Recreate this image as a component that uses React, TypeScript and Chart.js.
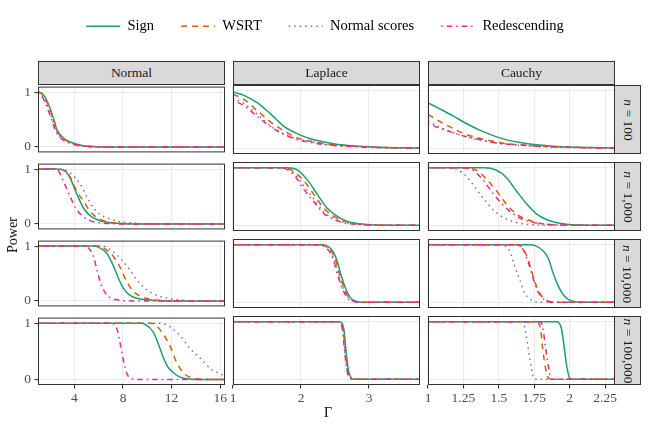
import { useEffect, useRef } from 'react'
import { Chart, registerables } from 'chart.js'

Chart.register(...registerables)

type Pt = [number, number]

const FONT = "'Liberation Serif', 'Times New Roman', serif"

const DISTRIBUTIONS = ['Normal', 'Laplace', 'Cauchy']
const SAMPLE_SIZES = ['100', '1,000', '10,000', '100,000']
const METHODS = ['Sign', 'WSRT', 'Normal scores', 'Redescending']
const COLORS = ['#1B9E77', '#D95F02', '#7570B3', '#E7298A']
const DASHES = [[], [6, 5], [1.5, 4], [1.5, 4, 5.5, 4]]

const X_RANGES = [
  [1, 16.4],
  [1, 3.75],
  [1, 2.32],
]
const X_TICKS = [
  [4, 8, 12, 16],
  [1, 2, 3],
  [1, 1.25, 1.5, 1.75, 2, 2.25],
]
const Y_TICKS = [0, 1]

// Normal
const NORMAL_100_SIGN: Pt[] = [[1, 1], [1.3, 0.98], [1.6, 0.9], [2, 0.7], [2.3, 0.5], [2.55, 0.32], [3.1, 0.16], [3.65, 0.09], [4.2, 0.05], [4.75, 0.02], [5.8, 0.005], [7, 0], [16.4, 0]]
const NORMAL_100_WSRT: Pt[] = [[1, 1], [1.3, 0.97], [1.6, 0.88], [2, 0.68], [2.3, 0.48], [2.55, 0.31], [3.1, 0.15], [3.65, 0.08], [4.2, 0.04], [4.75, 0.018], [5.8, 0.004], [7, 0], [16.4, 0]]
const NORMAL_100_NS: Pt[] = [[1, 1], [1.3, 0.95], [1.6, 0.84], [2, 0.62], [2.3, 0.42], [2.55, 0.27], [3.1, 0.13], [3.65, 0.07], [4.2, 0.035], [4.75, 0.015], [5.8, 0.003], [7, 0], [16.4, 0]]
const NORMAL_100_RED: Pt[] = [[1, 0.99], [1.3, 0.93], [1.6, 0.8], [2, 0.57], [2.3, 0.38], [2.55, 0.25], [3.1, 0.12], [3.65, 0.065], [4.2, 0.03], [4.75, 0.013], [5.8, 0.003], [7, 0], [16.4, 0]]

const NORMAL_1000_SIGN: Pt[] = [[1, 1], [2.5, 1], [2.96, 0.99], [3.3, 0.95], [3.64, 0.84], [4.19, 0.55], [4.74, 0.29], [5.29, 0.15], [5.84, 0.08], [6.66, 0.03], [7.5, 0.01], [9, 0], [16.4, 0]]
const NORMAL_1000_WSRT: Pt[] = [[1, 1], [2.5, 1], [3, 0.99], [3.3, 0.96], [3.64, 0.86], [4.19, 0.6], [4.74, 0.42], [5.29, 0.23], [5.84, 0.12], [6.39, 0.06], [7.21, 0.02], [8.5, 0.003], [10, 0], [16.4, 0]]
const NORMAL_1000_NS: Pt[] = [[1, 1], [2.5, 1], [3.1, 0.99], [3.64, 0.93], [4.47, 0.73], [5.02, 0.5], [5.57, 0.29], [6.12, 0.17], [6.94, 0.09], [7.76, 0.04], [8.59, 0.02], [10, 0.003], [11, 0], [16.4, 0]]
const NORMAL_1000_RED: Pt[] = [[1, 1], [2.4, 1], [2.68, 0.97], [3.09, 0.78], [3.64, 0.5], [4.19, 0.26], [4.74, 0.13], [5.29, 0.06], [6.12, 0.02], [7, 0.005], [8, 0], [16.4, 0]]

const NORMAL_10000_SIGN: Pt[] = [[1, 1], [5.5, 1], [5.98, 0.98], [6.66, 0.87], [7.21, 0.64], [7.63, 0.41], [8.04, 0.23], [8.59, 0.1], [9.14, 0.05], [9.96, 0.02], [11, 0.003], [12, 0], [16.4, 0]]
const NORMAL_10000_WSRT: Pt[] = [[1, 1], [6, 1], [6.3, 0.98], [7.21, 0.81], [7.76, 0.61], [8.31, 0.35], [8.86, 0.17], [9.41, 0.09], [10.2, 0.03], [11.2, 0.008], [12.5, 0], [16.4, 0]]
const NORMAL_10000_NS: Pt[] = [[1, 1], [6.4, 1], [6.7, 0.97], [7.49, 0.84], [8.31, 0.64], [9.14, 0.38], [9.96, 0.2], [10.8, 0.1], [11.9, 0.04], [13, 0.01], [14, 0], [16.4, 0]]
const NORMAL_10000_RED: Pt[] = [[1, 1], [4.9, 1], [5.15, 0.97], [5.57, 0.81], [5.84, 0.58], [6.12, 0.35], [6.53, 0.15], [6.94, 0.06], [7.49, 0.02], [8.2, 0.003], [9, 0], [16.4, 0]]

const NORMAL_100000_SIGN: Pt[] = [[1, 1], [9.5, 1], [9.82, 0.98], [10.5, 0.84], [10.9, 0.64], [11.3, 0.4], [11.7, 0.22], [12.2, 0.11], [12.7, 0.04], [13.3, 0.01], [14, 0], [16.4, 0]]
const NORMAL_100000_WSRT: Pt[] = [[1, 1], [10.4, 1], [10.6, 0.98], [11.3, 0.81], [11.9, 0.58], [12.4, 0.31], [13, 0.11], [13.5, 0.04], [14.1, 0.01], [14.8, 0], [16.4, 0]]
const NORMAL_100000_NS: Pt[] = [[1, 1], [11, 1], [11.6, 0.97], [12.7, 0.78], [13.5, 0.55], [14.4, 0.37], [15.2, 0.19], [16, 0.1], [16.4, 0.06]]
const NORMAL_100000_RED: Pt[] = [[1, 1], [7.1, 1], [7.3, 0.97], [7.54, 0.87], [7.82, 0.58], [8.09, 0.28], [8.37, 0.08], [8.73, 0.01], [9.2, 0], [16.4, 0]]

// Laplace
const LAPLACE_100_SIGN: Pt[] = [[1, 0.98], [1.16, 0.92], [1.36, 0.79], [1.56, 0.59], [1.75, 0.38], [1.95, 0.25], [2.15, 0.16], [2.34, 0.11], [2.59, 0.06], [2.84, 0.035], [3.23, 0.015], [3.75, 0.005]]
const LAPLACE_100_WSRT: Pt[] = [[1, 0.94], [1.16, 0.85], [1.36, 0.65], [1.56, 0.45], [1.75, 0.3], [1.95, 0.18], [2.15, 0.12], [2.34, 0.08], [2.59, 0.05], [2.84, 0.03], [3.23, 0.012], [3.75, 0.004]]
const LAPLACE_100_NS: Pt[] = [[1, 0.88], [1.16, 0.78], [1.36, 0.59], [1.56, 0.38], [1.75, 0.25], [1.95, 0.16], [2.15, 0.11], [2.34, 0.07], [2.59, 0.04], [2.84, 0.03], [3.23, 0.012], [3.75, 0.004]]
const LAPLACE_100_RED: Pt[] = [[1, 0.84], [1.16, 0.74], [1.36, 0.55], [1.56, 0.37], [1.75, 0.24], [1.95, 0.15], [2.15, 0.1], [2.34, 0.065], [2.59, 0.04], [2.84, 0.025], [3.23, 0.01], [3.75, 0.003]]

const LAPLACE_1000_SIGN: Pt[] = [[1, 1], [1.8, 1], [1.95, 0.96], [2.1, 0.78], [2.25, 0.52], [2.39, 0.29], [2.54, 0.15], [2.69, 0.06], [2.84, 0.03], [3.03, 0.01], [3.3, 0], [3.75, 0]]
const LAPLACE_1000_WSRT: Pt[] = [[1, 1], [1.75, 1], [1.9, 0.93], [2.05, 0.76], [2.2, 0.52], [2.34, 0.29], [2.49, 0.15], [2.64, 0.07], [2.84, 0.02], [3.1, 0.004], [3.3, 0], [3.75, 0]]
const LAPLACE_1000_NS: Pt[] = [[1, 1], [1.72, 1], [1.9, 0.9], [2.05, 0.67], [2.2, 0.44], [2.34, 0.23], [2.49, 0.12], [2.64, 0.05], [2.84, 0.02], [3.1, 0.003], [3.3, 0], [3.75, 0]]
const LAPLACE_1000_RED: Pt[] = [[1, 1], [1.7, 1], [1.9, 0.87], [2.05, 0.61], [2.2, 0.39], [2.34, 0.2], [2.49, 0.1], [2.64, 0.04], [2.84, 0.015], [3.1, 0.002], [3.3, 0], [3.75, 0]]

const LAPLACE_10000_SIGN: Pt[] = [[1, 1], [2.3, 1], [2.34, 0.995], [2.44, 0.93], [2.52, 0.76], [2.59, 0.47], [2.67, 0.2], [2.74, 0.06], [2.84, 0.01], [2.95, 0], [3.75, 0]]
const LAPLACE_10000_WSRT: Pt[] = [[1, 1], [2.28, 1], [2.32, 0.995], [2.42, 0.93], [2.5, 0.76], [2.57, 0.47], [2.65, 0.2], [2.72, 0.06], [2.82, 0.01], [2.93, 0], [3.75, 0]]
const LAPLACE_10000_NS: Pt[] = [[1, 1], [2.27, 1], [2.31, 0.99], [2.41, 0.92], [2.49, 0.74], [2.56, 0.45], [2.64, 0.19], [2.71, 0.06], [2.81, 0.01], [2.92, 0], [3.75, 0]]
const LAPLACE_10000_RED: Pt[] = [[1, 1], [2.26, 1], [2.3, 0.99], [2.4, 0.91], [2.48, 0.72], [2.55, 0.43], [2.63, 0.18], [2.7, 0.05], [2.8, 0.01], [2.91, 0], [3.75, 0]]

const LAPLACE_100000_SIGN: Pt[] = [[1, 1], [2.57, 1], [2.6, 0.98], [2.63, 0.87], [2.665, 0.46], [2.7, 0.14], [2.74, 0.02], [2.78, 0], [3.75, 0]]
const LAPLACE_100000_WSRT: Pt[] = [[1, 1], [2.56, 1], [2.59, 0.98], [2.62, 0.86], [2.655, 0.45], [2.69, 0.13], [2.73, 0.02], [2.77, 0], [3.75, 0]]
const LAPLACE_100000_NS: Pt[] = [[1, 1], [2.555, 1], [2.585, 0.98], [2.615, 0.85], [2.65, 0.44], [2.685, 0.13], [2.725, 0.02], [2.765, 0], [3.75, 0]]
const LAPLACE_100000_RED: Pt[] = [[1, 1], [2.55, 1], [2.58, 0.98], [2.61, 0.85], [2.645, 0.44], [2.68, 0.13], [2.72, 0.02], [2.76, 0], [3.75, 0]]

// Cauchy
const CAUCHY_100_SIGN: Pt[] = [[1, 0.79], [1.08, 0.69], [1.18, 0.56], [1.27, 0.43], [1.37, 0.31], [1.46, 0.22], [1.55, 0.15], [1.65, 0.1], [1.77, 0.06], [1.88, 0.035], [2.07, 0.017], [2.32, 0.006]]
const CAUCHY_100_WSRT: Pt[] = [[1, 0.59], [1.08, 0.47], [1.18, 0.34], [1.27, 0.24], [1.37, 0.17], [1.46, 0.12], [1.55, 0.08], [1.65, 0.06], [1.77, 0.04], [1.88, 0.03], [2.07, 0.015], [2.32, 0.005]]
const CAUCHY_100_NS: Pt[] = [[1, 0.47], [1.08, 0.37], [1.18, 0.27], [1.27, 0.2], [1.37, 0.14], [1.46, 0.1], [1.55, 0.07], [1.65, 0.05], [1.77, 0.035], [1.88, 0.023], [2.07, 0.012], [2.32, 0.004]]
const CAUCHY_100_RED: Pt[] = [[1, 0.43], [1.08, 0.35], [1.18, 0.27], [1.27, 0.2], [1.37, 0.15], [1.46, 0.1], [1.55, 0.075], [1.65, 0.055], [1.77, 0.035], [1.88, 0.022], [2.07, 0.01], [2.32, 0.003]]

const CAUCHY_1000_SIGN: Pt[] = [[1, 1], [1.4, 1], [1.48, 0.96], [1.55, 0.84], [1.62, 0.61], [1.7, 0.36], [1.77, 0.19], [1.84, 0.095], [1.91, 0.045], [1.98, 0.018], [2.07, 0.005], [2.2, 0], [2.32, 0]]
const CAUCHY_1000_WSRT: Pt[] = [[1, 1], [1.25, 1], [1.34, 0.96], [1.41, 0.81], [1.48, 0.61], [1.55, 0.38], [1.62, 0.2], [1.7, 0.1], [1.77, 0.045], [1.84, 0.018], [1.95, 0.004], [2.1, 0], [2.32, 0]]
const CAUCHY_1000_NS: Pt[] = [[1, 1], [1.15, 1], [1.25, 0.9], [1.32, 0.7], [1.39, 0.47], [1.46, 0.27], [1.53, 0.14], [1.6, 0.065], [1.7, 0.018], [1.8, 0.004], [1.9, 0], [2.32, 0]]
const CAUCHY_1000_RED: Pt[] = [[1, 1], [1.24, 1], [1.32, 0.95], [1.39, 0.78], [1.46, 0.55], [1.53, 0.35], [1.6, 0.2], [1.67, 0.1], [1.74, 0.05], [1.84, 0.017], [1.95, 0.004], [2.1, 0], [2.32, 0]]

const CAUCHY_10000_SIGN: Pt[] = [[1, 1], [1.72, 1], [1.76, 0.98], [1.81, 0.9], [1.85, 0.76], [1.88, 0.53], [1.92, 0.28], [1.955, 0.13], [1.99, 0.05], [2.03, 0.012], [2.08, 0], [2.32, 0]]
const CAUCHY_10000_WSRT: Pt[] = [[1, 1], [1.62, 1], [1.65, 0.98], [1.68, 0.9], [1.72, 0.64], [1.755, 0.35], [1.79, 0.15], [1.825, 0.05], [1.86, 0.01], [1.9, 0], [2.32, 0]]
const CAUCHY_10000_NS: Pt[] = [[1, 1], [1.52, 1], [1.55, 0.97], [1.58, 0.87], [1.61, 0.64], [1.65, 0.38], [1.68, 0.17], [1.72, 0.06], [1.755, 0.01], [1.79, 0], [2.32, 0]]
const CAUCHY_10000_RED: Pt[] = [[1, 1], [1.615, 1], [1.645, 0.98], [1.675, 0.9], [1.715, 0.64], [1.75, 0.35], [1.785, 0.15], [1.82, 0.05], [1.855, 0.01], [1.895, 0], [2.32, 0]]

const CAUCHY_100000_SIGN: Pt[] = [[1, 1], [1.91, 1], [1.925, 0.98], [1.943, 0.87], [1.96, 0.58], [1.98, 0.22], [2.0, 0.02], [2.02, 0], [2.32, 0]]
const CAUCHY_100000_WSRT: Pt[] = [[1, 1], [1.77, 1], [1.78, 0.98], [1.795, 0.87], [1.81, 0.52], [1.83, 0.19], [1.85, 0.02], [1.87, 0], [2.32, 0]]
const CAUCHY_100000_NS: Pt[] = [[1, 1], [1.66, 1], [1.675, 0.97], [1.69, 0.81], [1.71, 0.49], [1.73, 0.19], [1.745, 0.02], [1.76, 0], [2.32, 0]]
const CAUCHY_100000_RED: Pt[] = [[1, 1], [1.79, 1], [1.8, 0.98], [1.81, 0.9], [1.83, 0.55], [1.85, 0.22], [1.865, 0.02], [1.88, 0], [2.32, 0]]

// [column][row][method]
const CURVES: Pt[][][][] = [
  [
    [NORMAL_100_SIGN, NORMAL_100_WSRT, NORMAL_100_NS, NORMAL_100_RED],
    [NORMAL_1000_SIGN, NORMAL_1000_WSRT, NORMAL_1000_NS, NORMAL_1000_RED],
    [NORMAL_10000_SIGN, NORMAL_10000_WSRT, NORMAL_10000_NS, NORMAL_10000_RED],
    [NORMAL_100000_SIGN, NORMAL_100000_WSRT, NORMAL_100000_NS, NORMAL_100000_RED],
  ],
  [
    [LAPLACE_100_SIGN, LAPLACE_100_WSRT, LAPLACE_100_NS, LAPLACE_100_RED],
    [LAPLACE_1000_SIGN, LAPLACE_1000_WSRT, LAPLACE_1000_NS, LAPLACE_1000_RED],
    [LAPLACE_10000_SIGN, LAPLACE_10000_WSRT, LAPLACE_10000_NS, LAPLACE_10000_RED],
    [LAPLACE_100000_SIGN, LAPLACE_100000_WSRT, LAPLACE_100000_NS, LAPLACE_100000_RED],
  ],
  [
    [CAUCHY_100_SIGN, CAUCHY_100_WSRT, CAUCHY_100_NS, CAUCHY_100_RED],
    [CAUCHY_1000_SIGN, CAUCHY_1000_WSRT, CAUCHY_1000_NS, CAUCHY_1000_RED],
    [CAUCHY_10000_SIGN, CAUCHY_10000_WSRT, CAUCHY_10000_NS, CAUCHY_10000_RED],
    [CAUCHY_100000_SIGN, CAUCHY_100000_WSRT, CAUCHY_100000_NS, CAUCHY_100000_RED],
  ],
]

// layout (px)
const COL_LEFT = [38, 233, 428]
const ROW_TOP = [85, 162, 239, 316]
const PANEL_W = 187
const PANEL_H = 69
const STRIP_TOP = 61
const STRIP_H = 24
const STRIP_W = 27
const PAD = 10
const AXIS_B = 30

const panelBorder = {
  id: 'panelBorder',
  afterDraw(chart: Chart) {
    const { ctx, chartArea: a } = chart
    ctx.save()
    ctx.strokeStyle = '#333333'
    ctx.lineWidth = 1
    ctx.strokeRect(a.left + 0.5, a.top + 0.5, a.width - 1, a.height - 1)
    ctx.restore()
  },
}

function Panel({ col, row }: { col: number; row: number }) {
  const canvasRef = useRef<HTMLCanvasElement>(null)
  const left = col === 0
  const bottom = row === 3
  const padL = left ? COL_LEFT[0] : PAD
  const padB = bottom ? AXIS_B : PAD

  useEffect(() => {
    if (!canvasRef.current) return
    const tickFont = { size: 13.5, family: FONT }
    const chart = new Chart(canvasRef.current, {
      type: 'line',
      data: {
        datasets: CURVES[col][row]
          .map((pts, i) => ({
            label: METHODS[i],
            data: pts.map(([x, y]) => ({ x, y })),
            borderColor: COLORS[i],
            borderWidth: 1.5,
            borderDash: DASHES[i],
            borderCapStyle: 'butt' as const,
            pointRadius: 0,
            cubicInterpolationMode: 'monotone' as const,
            fill: false,
          }))
          .reverse(),
      },
      options: {
        animation: false,
        events: [],
        responsive: true,
        maintainAspectRatio: false,
        layout: {
          padding: { left: left ? 0 : PAD, right: PAD, top: PAD, bottom: bottom ? 0 : PAD },
        },
        plugins: { legend: { display: false }, tooltip: { enabled: false } },
        scales: {
          x: {
            type: 'linear',
            min: X_RANGES[col][0],
            max: X_RANGES[col][1],
            afterBuildTicks: (s: any) => {
              s.ticks = X_TICKS[col].map((value) => ({ value }))
            },
            afterFit: (s: any) => {
              s.height = bottom ? AXIS_B : 0
            },
            ticks: {
              display: bottom,
              autoSkip: false,
              maxRotation: 0,
              minRotation: 0,
              padding: 2,
              color: '#4D4D4D',
              font: tickFont,
              callback: (v: any) => String(v),
            },
            grid: {
              color: '#EBEBEB',
              lineWidth: 1.1,
              drawTicks: bottom,
              tickLength: 3.5,
              tickColor: '#333333',
              tickWidth: 1.1,
            },
            border: { display: false },
          },
          y: {
            type: 'linear',
            min: -0.1,
            max: 1.1,
            afterBuildTicks: (s: any) => {
              s.ticks = Y_TICKS.map((value) => ({ value }))
            },
            afterFit: (s: any) => {
              s.width = left ? COL_LEFT[0] : 0
            },
            ticks: {
              display: left,
              padding: 3.5,
              color: '#4D4D4D',
              font: tickFont,
              callback: (v: any) => String(v),
            },
            grid: {
              color: '#EBEBEB',
              lineWidth: 1.1,
              drawTicks: left,
              tickLength: 3.5,
              tickColor: '#333333',
              tickWidth: 1.1,
            },
            border: { display: false },
          },
        },
      },
      plugins: [panelBorder],
    })
    return () => chart.destroy()
  }, [col, row])

  return (
    <div
      style={{
        position: 'absolute',
        left: COL_LEFT[col] - padL,
        top: ROW_TOP[row] - PAD,
        width: PANEL_W + padL + PAD,
        height: PANEL_H + PAD + padB,
      }}
    >
      <canvas ref={canvasRef} />
    </div>
  )
}

function Legend() {
  const canvasRef = useRef<HTMLCanvasElement>(null)

  useEffect(() => {
    if (!canvasRef.current) return
    const chart = new Chart(canvasRef.current, {
      type: 'line',
      data: {
        labels: [''],
        datasets: METHODS.map((m, i) => ({
          label: m,
          data: [null],
          borderColor: COLORS[i],
          backgroundColor: COLORS[i],
          borderWidth: 1.5,
          borderDash: DASHES[i],
          borderCapStyle: 'butt' as const,
          pointRadius: 0,
        })),
      },
      options: {
        animation: false,
        events: [],
        responsive: true,
        maintainAspectRatio: false,
        layout: { padding: 0 },
        plugins: {
          tooltip: { enabled: false },
          legend: {
            display: true,
            position: 'top',
            align: 'center',
            maxHeight: 120,
            labels: {
              usePointStyle: true,
              pointStyle: 'line',
              pointStyleWidth: 34,
              padding: 27,
              color: '#000000',
              font: { size: 14.5, family: FONT },
              // point styles carry no dash, so build the items from the datasets
              generateLabels: (c: Chart) =>
                c.data.datasets.map((ds: any, i: number) => ({
                  text: ds.label,
                  datasetIndex: i,
                  hidden: false,
                  strokeStyle: ds.borderColor,
                  fillStyle: ds.borderColor,
                  fontColor: '#000000',
                  lineWidth: ds.borderWidth,
                  lineDash: ds.borderDash,
                  lineCap: 'butt',
                  pointStyle: 'line',
                })),
            },
          },
        },
        scales: { x: { display: false }, y: { display: false } },
      },
    })
    return () => chart.destroy()
  }, [])

  return (
    <div style={{ position: 'absolute', left: 0, top: -8, width: 650, height: 160 }}>
      <canvas ref={canvasRef} />
    </div>
  )
}

export default function App() {
  const stripBase = {
    position: 'absolute' as const,
    boxSizing: 'border-box' as const,
    background: '#D9D9D9',
    border: '1px solid #333333',
    display: 'flex',
    alignItems: 'center',
    justifyContent: 'center',
    color: '#1A1A1A',
    fontFamily: FONT,
    fontSize: 13.5,
    whiteSpace: 'nowrap' as const,
  }

  return (
    <div
      style={{
        position: 'absolute',
        left: 0,
        top: 0,
        width: 650,
        height: 429,
        background: '#ffffff',
        overflow: 'hidden',
        fontFamily: FONT,
      }}
    >
      <Legend />
      {DISTRIBUTIONS.map((d, c) => (
        <div
          key={d}
          style={{ ...stripBase, left: COL_LEFT[c], top: STRIP_TOP, width: PANEL_W, height: STRIP_H }}
        >
          {d}
        </div>
      ))}
      {SAMPLE_SIZES.map((n, r) => (
        <div
          key={n}
          style={{
            ...stripBase,
            left: COL_LEFT[2] + PANEL_W - 1,
            top: ROW_TOP[r],
            width: STRIP_W,
            height: PANEL_H,
          }}
        >
          <span style={{ transform: 'rotate(90deg)', display: 'inline-block' }}>
            <i>n</i> = {n}
          </span>
        </div>
      ))}
      {DISTRIBUTIONS.map((d, c) =>
        SAMPLE_SIZES.map((n, r) => <Panel key={`${d}-${n}`} col={c} row={r} />)
      )}
      <div
        style={{
          position: 'absolute',
          left: 12.5,
          top: 235,
          transform: 'translate(-50%, -50%) rotate(-90deg)',
          fontSize: 14,
          color: '#000000',
          whiteSpace: 'nowrap',
        }}
      >
        Power
      </div>
      <div
        style={{
          position: 'absolute',
          left: 328,
          top: 413,
          transform: 'translate(-50%, -50%)',
          fontSize: 14,
          color: '#000000',
        }}
      >
        Γ
      </div>
    </div>
  )
}
